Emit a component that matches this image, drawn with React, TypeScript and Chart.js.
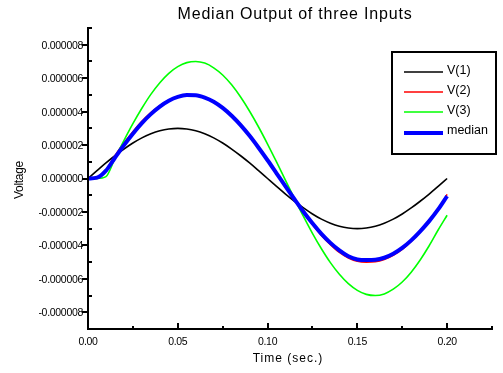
import { useEffect, useRef } from "react";
import { Chart, registerables } from "chart.js";

Chart.register(...registerables);

// Time axis (seconds)
const TIME = [
  0, 0.005, 0.01, 0.015, 0.02, 0.025, 0.03, 0.035, 0.04, 0.045,
  0.05, 0.055, 0.06, 0.065, 0.07, 0.075, 0.08, 0.085, 0.09, 0.095,
  0.1, 0.105, 0.11, 0.115, 0.12, 0.125, 0.13, 0.135, 0.14, 0.145,
  0.15, 0.155, 0.16, 0.165, 0.17, 0.175, 0.18, 0.185, 0.19, 0.195, 0.2,
];

// Series values in microvolts (axis labels are shown in volts)
const V1 = [
  0, 0.47, 0.93, 1.36, 1.76, 2.12, 2.43, 2.67, 2.85, 2.96,
  3.0, 2.96, 2.85, 2.67, 2.43, 2.12, 1.76, 1.36, 0.93, 0.47,
  0, -0.47, -0.93, -1.36, -1.76, -2.12, -2.43, -2.67, -2.85, -2.96,
  -3.0, -2.96, -2.85, -2.67, -2.43, -2.12, -1.76, -1.36, -0.93, -0.47, 0,
];
const V2 = [
  0, 0, 0.5, 1.36, 2.12, 2.8, 3.42, 3.94, 4.36, 4.68,
  4.9, 5.0, 4.99, 4.86, 4.62, 4.26, 3.8, 3.24, 2.6, 1.88,
  1.12, 0.32, -0.48, -1.28, -2.04, -2.75, -3.4, -3.95, -4.42, -4.75,
  -4.95, -5.0, -4.98, -4.85, -4.6, -4.24, -3.76, -3.2, -2.54, -1.82, -0.95,
];
const V3 = [
  0, 0, 0.11, 1.2, 2.27, 3.28, 4.2, 5.03, 5.73, 6.29,
  6.69, 6.93, 7.0, 6.9, 6.62, 6.19, 5.6, 4.87, 4.02, 3.08,
  2.06, 0.99, -0.11, -1.2, -2.27, -3.28, -4.2, -5.03, -5.73, -6.29,
  -6.69, -6.93, -7.0, -6.9, -6.62, -6.19, -5.6, -4.87, -4.02, -3.08, -2.2,
];
const MEDIAN = [
  0, 0.05, 0.47, 1.24, 1.99, 2.68, 3.31, 3.85, 4.3, 4.65,
  4.88, 4.99, 4.98, 4.84, 4.59, 4.22, 3.75, 3.19, 2.55, 1.84,
  1.09, 0.31, -0.47, -1.24, -1.99, -2.68, -3.31, -3.85, -4.3, -4.65,
  -4.84, -4.88, -4.86, -4.74, -4.5, -4.15, -3.7, -3.16, -2.55, -1.85, -1.05,
];

const SERIES_NAMES = ["V(1)", "V(2)", "V(3)", "median"];
const SERIES_COLORS = ["#000000", "#ff0000", "#00ff00", "#0000ff"];
const SERIES_WIDTHS = [1.6, 1.6, 1.6, 4];

const TITLE = "Median Output of three Inputs";
const X_TITLE = "Time (sec.)";
const Y_TITLE = "Voltage";

const X_MAJOR_TICKS = [0, 0.05, 0.1, 0.15, 0.2];
const X_TICK_LABELS = ["0.00", "0.05", "0.10", "0.15", "0.20"];
const X_MINOR_TICKS = [0.025, 0.075, 0.125, 0.175, 0.225];
const Y_MAJOR_TICKS = [8, 6, 4, 2, 0, -2, -4, -6, -8];
const Y_TICK_LABELS = [
  "0.000008", "0.000006", "0.000004", "0.000002", "0.000000",
  "-0.000002", "-0.000004", "-0.000006", "-0.000008",
];
const Y_MINOR_TICKS = [9, 7, 5, 3, 1, -1, -3, -5, -7, -9];

const FONT = '"Liberation Sans", Arial, sans-serif';

const decorPlugin = {
  id: "decor",
  afterDraw(chart: any) {
    const { ctx, chartArea: a, scales } = chart;
    const xs = scales.x;
    const ys = scales.y;
    ctx.save();
    ctx.strokeStyle = "#000";
    ctx.fillStyle = "#000";
    ctx.lineWidth = 2;
    ctx.lineCap = "butt";

    const L = Math.round(a.left);
    const B = Math.round(a.bottom);

    // axes
    ctx.beginPath();
    ctx.moveTo(L, Math.round(a.top) - 1);
    ctx.lineTo(L, B);
    ctx.lineTo(Math.round(a.right) + 1, B);
    ctx.stroke();

    // y ticks
    ctx.beginPath();
    Y_MAJOR_TICKS.forEach((v) => {
      const py = Math.round(ys.getPixelForValue(v));
      ctx.moveTo(L - 6, py);
      ctx.lineTo(L, py);
    });
    Y_MINOR_TICKS.forEach((v) => {
      const py = Math.round(ys.getPixelForValue(v));
      ctx.moveTo(L, py);
      ctx.lineTo(L + 4, py);
    });
    // x ticks
    X_MAJOR_TICKS.forEach((v) => {
      const px = Math.round(xs.getPixelForValue(v));
      ctx.moveTo(px, B);
      ctx.lineTo(px, B - 6);
    });
    X_MINOR_TICKS.forEach((v) => {
      const px = Math.round(xs.getPixelForValue(v));
      ctx.moveTo(px, B);
      ctx.lineTo(px, B - 3);
    });
    ctx.stroke();

    // tick labels
    ctx.font = `10.5px ${FONT}`;
    (ctx as any).letterSpacing = "-0.3px";
    ctx.textAlign = "right";
    ctx.textBaseline = "middle";
    Y_MAJOR_TICKS.forEach((v, i) => {
      const py = ys.getPixelForValue(v);
      ctx.fillText(Y_TICK_LABELS[i], L - 5, py + 1);
    });
    ctx.textAlign = "center";
    X_MAJOR_TICKS.forEach((v, i) => {
      const px = xs.getPixelForValue(v);
      ctx.fillText(X_TICK_LABELS[i], px, B + 13);
    });

    // title
    ctx.font = `16px ${FONT}`;
    (ctx as any).letterSpacing = "0.8px";
    ctx.textAlign = "center";
    ctx.fillText(TITLE, 295, 15);

    // x title
    ctx.font = `12px ${FONT}`;
    (ctx as any).letterSpacing = "1px";
    ctx.fillText(X_TITLE, 288, 359);

    // y title
    ctx.save();
    ctx.translate(20, 180);
    ctx.rotate(-Math.PI / 2);
    ctx.font = `12px ${FONT}`;
    (ctx as any).letterSpacing = "-0.3px";
    ctx.textAlign = "center";
    ctx.fillText(Y_TITLE, 0, 0);
    ctx.restore();

    // legend
    (ctx as any).letterSpacing = "0px";
    ctx.fillStyle = "#fff";
    ctx.fillRect(393, 53, 102, 100);
    ctx.strokeStyle = "#000";
    ctx.lineWidth = 2;
    ctx.strokeRect(392, 52, 104, 102);
    const rowsLine = [72, 92, 112, 133];
    const rowsText = [71, 91, 111, 131];
    ctx.font = `12.5px ${FONT}`;
    ctx.textAlign = "left";
    ctx.textBaseline = "middle";
    SERIES_NAMES.forEach((name, i) => {
      ctx.strokeStyle = SERIES_COLORS[i];
      ctx.lineWidth = SERIES_WIDTHS[i];
      ctx.beginPath();
      ctx.moveTo(404, rowsLine[i]);
      ctx.lineTo(443, rowsLine[i]);
      ctx.stroke();
      ctx.fillStyle = "#000";
      ctx.fillText(name, 447, rowsText[i]);
    });

    ctx.restore();
  },
};

export default function App() {
  const ref = useRef<HTMLCanvasElement | null>(null);

  useEffect(() => {
    if (!ref.current) return;
    const allSeries = [V1, V2, V3, MEDIAN];
    const orders = [3, 2, 1, 0];
    const chart = new Chart(ref.current, {
      type: "line",
      data: {
        datasets: allSeries.map((vals, s) => ({
          label: SERIES_NAMES[s],
          data: TIME.map((t, i) => ({ x: t, y: vals[i] })),
          borderColor: SERIES_COLORS[s],
          backgroundColor: SERIES_COLORS[s],
          borderWidth: SERIES_WIDTHS[s],
          pointRadius: 0,
          fill: false,
          cubicInterpolationMode: "monotone" as const,
          order: orders[s],
        })),
      },
      options: {
        animation: false,
        responsive: false,
        devicePixelRatio: 1,
        layout: { padding: { left: 88, right: 11, top: 28, bottom: 44 } },
        plugins: {
          legend: { display: false },
          title: { display: false },
          tooltip: { enabled: false },
        },
        scales: {
          x: { type: "linear", min: 0, max: 0.225, display: false },
          y: { type: "linear", min: -9, max: 9, display: false },
        },
      },
      plugins: [decorPlugin],
    });
    return () => chart.destroy();
  }, []);

  return (
    <div style={{ position: "absolute", left: 0, top: 0, width: 503, height: 373, background: "#fff" }}>
      <canvas ref={ref} width={503} height={373} style={{ display: "block" }} />
    </div>
  );
}
